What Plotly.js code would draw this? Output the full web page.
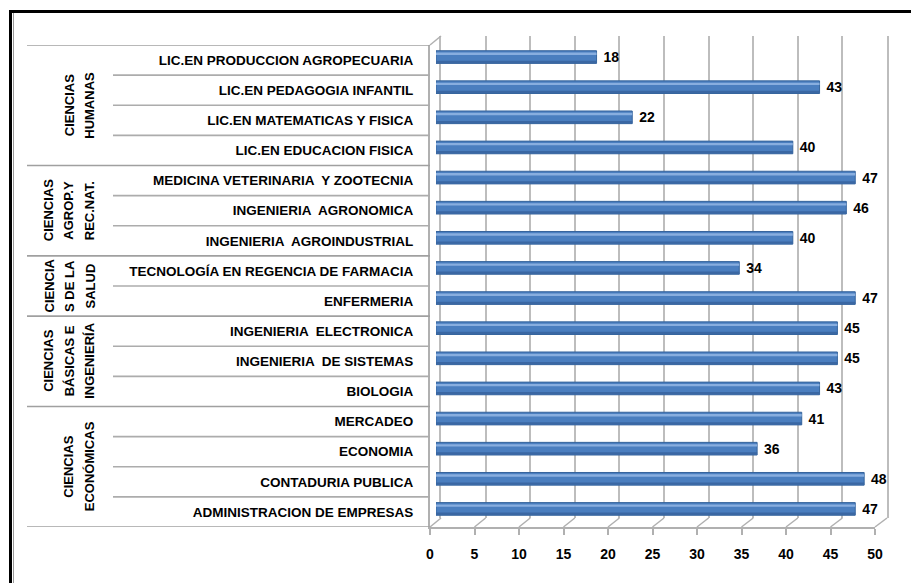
<!DOCTYPE html>
<html><head><meta charset="utf-8">
<script src="https://cdn.plot.ly/plotly-3.0.1.min.js"></script>
<style>html,body{margin:0;padding:0;background:#fff;overflow:hidden}#chart{width:912px;height:583px}</style>
</head><body><div id="chart"></div>
<script>
// ---- data ----
const programs = [
  'LIC.EN PRODUCCION AGROPECUARIA',
  'LIC.EN PEDAGOGIA INFANTIL',
  'LIC.EN MATEMATICAS Y FISICA',
  'LIC.EN EDUCACION FISICA',
  'MEDICINA VETERINARIA  Y ZOOTECNIA',
  'INGENIERIA  AGRONOMICA',
  'INGENIERIA  AGROINDUSTRIAL',
  'TECNOLOGÍA EN REGENCIA DE FARMACIA',
  'ENFERMERIA',
  'INGENIERIA  ELECTRONICA',
  'INGENIERIA  DE SISTEMAS',
  'BIOLOGIA',
  'MERCADEO',
  'ECONOMIA',
  'CONTADURIA PUBLICA',
  'ADMINISTRACION DE EMPRESAS'
];
const students = [18, 43, 22, 40, 47, 46, 40, 34, 47, 45, 45, 43, 41, 36, 48, 47];
const groupLines = [
  ['CIENCIAS', 'HUMANAS'],
  ['CIENCIAS', 'AGROP.Y', 'REC.NAT.'],
  ['CIENCIA', 'S DE LA', 'SALUD'],
  ['CIENCIAS', 'BÁSICAS E', 'INGENIERÍA'],
  ['CIENCIAS', 'ECONÓMICAS']
];
const groupSizes = [4, 3, 2, 3, 4];
const xTicks = [0, 5, 10, 15, 20, 25, 30, 35, 40, 45, 50];

// ---- layout geometry (pixels) ----
const W = 912, H = 583;
const fx = p => p / W, fy = p => 1 - p / H;
const FL = 430, FR = 875, FT = 45, FB = 527;   // front plane
const BL = 441, BR = 887, BT = 36, BB = 518;   // back wall
const RL = 436, RR = 882, RT = 42, RB = 524;   // bar plane
const FONT = '"Liberation Sans", Arial, sans-serif';
const GRID = '#bdbdbd', LINE = '#b0b0b0';
const yRange = [programs.length - 0.5, -0.5];

const catAxis = (dom, anchor, extra) => Object.assign({
  domain: dom, anchor: anchor, type: 'category', categoryorder: 'array',
  categoryarray: programs, range: yRange, showgrid: false, zeroline: false,
  fixedrange: true
}, extra);

const traces = [
  {type: 'scatter', x: students, y: programs, xaxis: 'x', yaxis: 'y', mode: 'markers',
   marker: {opacity: 0}, hoverinfo: 'skip', showlegend: false},
  {type: 'scatter', x: students, y: programs, xaxis: 'x3', yaxis: 'y3', mode: 'markers',
   marker: {opacity: 0}, hoverinfo: 'skip', showlegend: false},
  {type: 'bar', orientation: 'h', x: students, y: programs, xaxis: 'x2', yaxis: 'y2',
   width: 0.42, marker: {color: '#4A7EBF', line: {color: '#36649C', width: 1}},
   texttemplate: '\u00a0%{x}', textposition: 'outside', constraintext: 'none',
   cliponaxis: false, textfont: {family: FONT, size: 14, color: '#000', weight: 'bold'},
   hoverinfo: 'x+y', showlegend: false},
  {type: 'bar', orientation: 'h', x: students, y: programs, xaxis: 'x2', yaxis: 'y2',
   width: 0.08, offset: -0.15, marker: {color: '#88AEDF', line: {width: 0}},
   hoverinfo: 'skip', showlegend: false},
  {type: 'bar', orientation: 'h', x: students, y: programs, xaxis: 'x2', yaxis: 'y2',
   width: 0.08, offset: 0.12, marker: {color: '#3A67A3', line: {width: 0}},
   hoverinfo: 'skip', showlegend: false}
];

// table lines
const shapes = [];
const groupStarts = [];
let acc = 0;
groupSizes.forEach(n => { groupStarts.push(acc); acc += n; });
const groupBounds = new Set(groupStarts.concat([programs.length]));
for (let k = 0; k <= programs.length; k++) {
  const isGroup = groupBounds.has(k);
  shapes.push({type: 'line', xref: 'paper', yref: 'y3',
    x0: fx(isGroup ? 27 : 113), x1: fx(FL), y0: k - 0.5, y1: k - 0.5,
    line: {color: isGroup ? '#a0a0a0' : '#acacac', width: 1.6}});
}
// 3D floor diagonals + wall corner
const fsc = (FR - FL) / 50, bsc = (BR - BL) / 50;
xTicks.forEach(t => {
  shapes.push({type: 'line', xref: 'paper', yref: 'paper',
    x0: fx(FL + t * fsc), y0: fy(FB), x1: fx(BL + t * bsc), y1: fy(BB),
    line: {color: LINE, width: 1.5}});
});
shapes.push({type: 'line', xref: 'paper', yref: 'paper',
  x0: fx(FL), y0: fy(FT), x1: fx(BL), y1: fy(BT), line: {color: LINE, width: 1.5}});
// outer frame (only top and left edges are visible)
shapes.push({type: 'line', xref: 'paper', yref: 'paper',
  x0: fx(9.5), x1: fx(911), y0: fy(11.5), y1: fy(11.5), line: {color: '#000', width: 3}});
shapes.push({type: 'line', xref: 'paper', yref: 'paper',
  x0: fx(10.5), x1: fx(10.5), y0: fy(10), y1: fy(583), line: {color: '#000', width: 3}});
shapes.push({type: 'line', xref: 'paper', yref: 'paper',
  x0: fx(13.5), x1: fx(13.5), y0: fy(13), y1: fy(583), line: {color: '#9a9a9a', width: 1}});

// group labels
const annotations = [];
groupLines.forEach((lines, gi) => {
  const center = groupStarts[gi] + (groupSizes[gi] - 1) / 2;
  lines.forEach((txt, j) => {
    annotations.push({text: txt, xref: 'paper', yref: 'y3',
      x: fx(89.5 - (lines.length - 1 - j) * 20.5), y: center, textangle: -90,
      showarrow: false, xanchor: 'center', yanchor: 'middle',
      font: {family: FONT, size: 13, color: '#000', weight: 'bold'}});
  });
});

const layout = {
  width: W, height: H, margin: {l: 0, r: 0, t: 0, b: 0},
  paper_bgcolor: '#ffffff', plot_bgcolor: 'rgba(0,0,0,0)',
  barmode: 'overlay', showlegend: false,
  xaxis: {domain: [fx(BL), fx(BR)], range: [0, 50], anchor: 'y', tickvals: xTicks,
    showgrid: true, gridcolor: GRID, gridwidth: 2, zeroline: false,
    showticklabels: false, ticks: '', showline: false, fixedrange: true},
  yaxis: catAxis([fy(BB), fy(BT)], 'x', {showticklabels: false, ticks: '',
    showline: true, mirror: true, linecolor: GRID, linewidth: 2}),
  xaxis2: {domain: [fx(RL), fx(RR)], range: [0, 50], anchor: 'y2', visible: false, fixedrange: true},
  yaxis2: catAxis([fy(RB), fy(RT)], 'x2', {visible: false}),
  xaxis3: {domain: [fx(FL), fx(FR)], range: [0, 50], anchor: 'y3', tickvals: xTicks,
    showgrid: false, zeroline: false, showline: true, linecolor: LINE, linewidth: 2,
    ticks: 'outside', ticklen: 6, tickwidth: 2, tickcolor: LINE,
    tickfont: {family: FONT, size: 14, color: '#000', weight: 'bold'},
    ticklabelstandoff: 7, fixedrange: true},
  yaxis3: catAxis([fy(FB), fy(FT)], 'x3', {showline: true, linecolor: LINE, linewidth: 2,
    ticks: '', tickfont: {family: FONT, size: 13.5, color: '#000', weight: 'bold'},
    ticklabelstandoff: 12}),
  shapes: shapes,
  annotations: annotations
};

Plotly.newPlot('chart', traces, layout, {displayModeBar: false, staticPlot: true});
</script>
</body></html>
